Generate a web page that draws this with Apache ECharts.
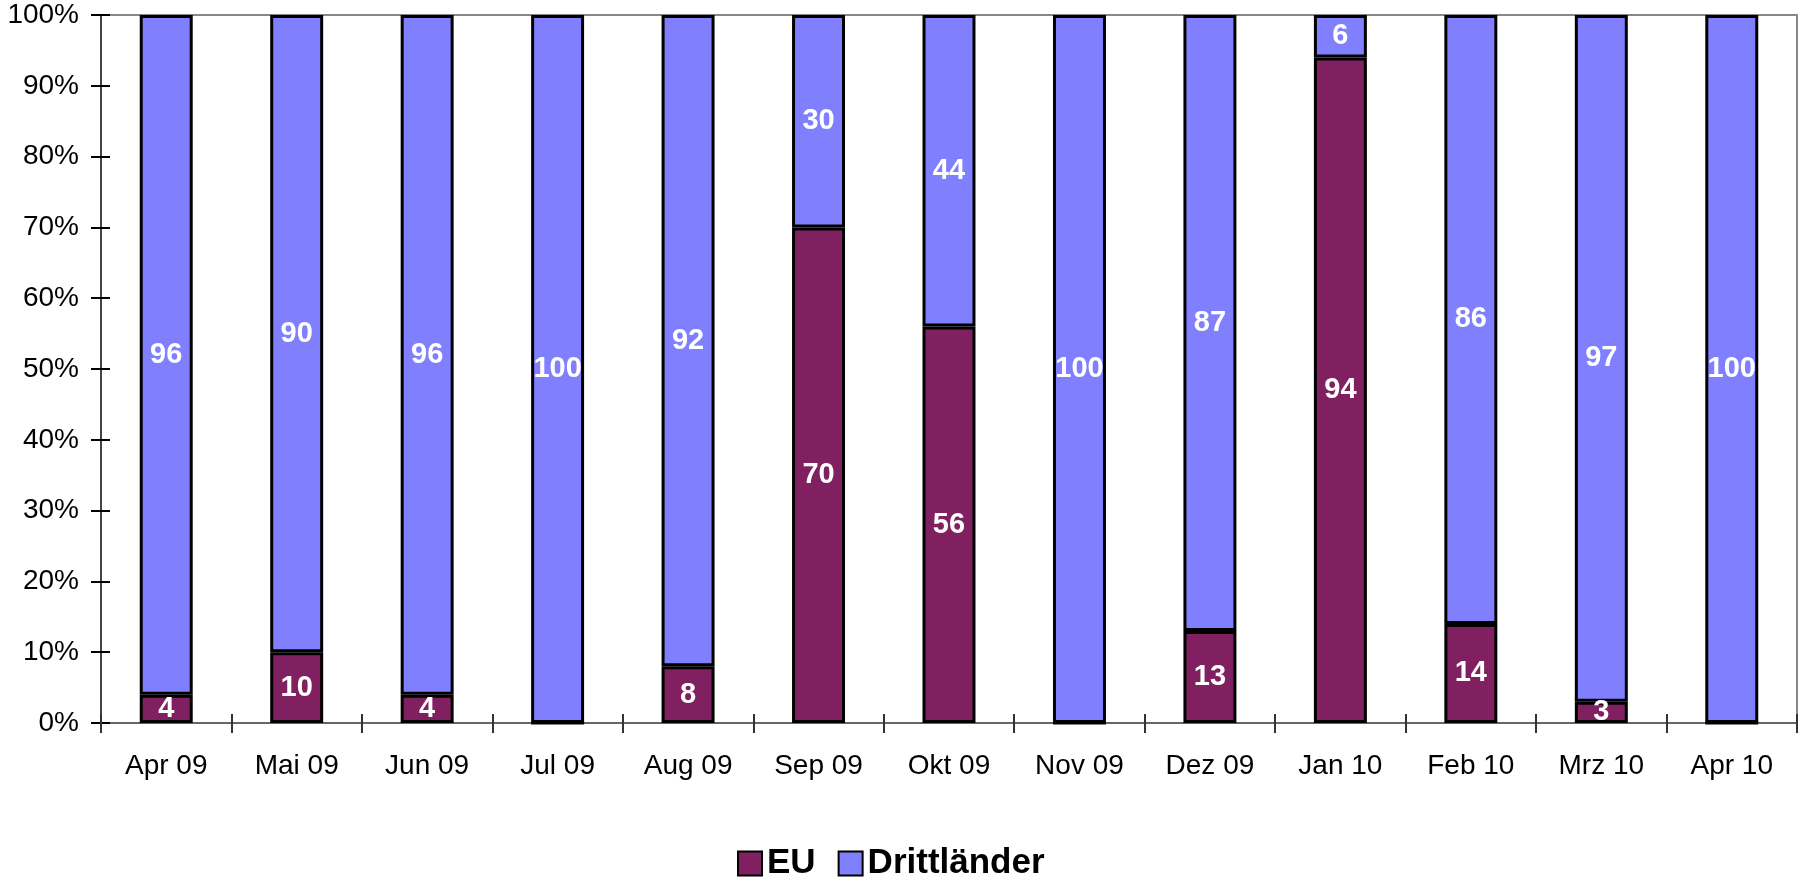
<!DOCTYPE html>
<html>
<head>
    <meta charset="utf-8">
    <title>EU / Drittländer</title>
    <script src="https://cdn.jsdelivr.net/npm/echarts@6/dist/echarts.min.js"></script>
    <style>
        html, body { margin: 0; padding: 0; background: #fff; }
    </style>
</head>
<body>
    <div id="chart" style="width: 1798px;height:882px;"></div>
    <script type="text/javascript">
        var months = ['Apr 09', 'Mai 09', 'Jun 09', 'Jul 09', 'Aug 09', 'Sep 09', 'Okt 09',
                      'Nov 09', 'Dez 09', 'Jan 10', 'Feb 10', 'Mrz 10', 'Apr 10'];
        var euValues = [4, 10, 4, 0, 8, 70, 56, 0, 13, 94, 14, 3, 0];
        var drittValues = [96, 90, 96, 100, 92, 30, 44, 100, 87, 6, 86, 97, 100];

        var font = '"Liberation Sans", Arial, Helvetica, sans-serif';
        var chart = echarts.init(document.getElementById('chart'));

        // Beschriftung in den Balken, Nullwerte ausblenden
        var barLabel = {
            show: true,
            position: 'inside',
            color: '#fff',
            fontFamily: font,
            fontWeight: 'bold',
            fontSize: 29,
            formatter: function (p) { return p.value === 0 ? '' : p.value; }
        };

        chart.setOption({
            animation: false,
            textStyle: { fontFamily: font },
            grid: { left: 101, right: 1, top: 15, bottom: 159, containLabel: false,
                    show: true, borderColor: '#888', borderWidth: 2 },
            legend: {
                top: 841,
                left: 732,
                itemWidth: 24,
                itemHeight: 24,
                itemGap: 22,
                icon: 'rect',
                textStyle: { fontFamily: font, fontSize: 35, fontWeight: 'bold', color: '#000' },
                data: ['EU', 'Drittländer']
            },
            xAxis: [{
                type: 'category',
                data: months,
                axisLine: { lineStyle: { color: '#666', width: 2 } },
                axisTick: { show: true, length: 10, lineStyle: { color: '#333', width: 2 } },
                axisLabel: { color: '#000', fontSize: 28, fontFamily: font, margin: 29 }
            }, {
                // zweite Achse nur fuer die nach innen zeigenden Teilstriche
                type: 'category',
                data: months,
                position: 'bottom',
                axisLine: { show: false },
                axisTick: { show: true, inside: true, length: 9, lineStyle: { color: '#333', width: 2 } },
                axisLabel: { show: false }
            }],
            yAxis: [{
                type: 'value',
                min: 0,
                max: 100,
                interval: 10,
                splitLine: { show: false },
                axisLine: { show: true, lineStyle: { color: '#444', width: 2 } },
                axisTick: { show: true, length: 10, lineStyle: { color: '#000', width: 2 } },
                axisLabel: { color: '#000', fontSize: 28, fontFamily: font, margin: 22,
                             formatter: '{value}%' }
            }, {
                type: 'value',
                min: 0,
                max: 100,
                interval: 10,
                position: 'left',
                splitLine: { show: false },
                axisLine: { show: false },
                axisTick: { show: true, inside: true, length: 9, lineStyle: { color: '#000', width: 2 } },
                axisLabel: { show: false }
            }],
            series: [{
                name: 'EU',
                type: 'bar',
                stack: 'total',
                barWidth: '40.6%',
                data: euValues,
                itemStyle: { color: '#802060', borderColor: '#000', borderWidth: 3 },
                label: barLabel
            }, {
                name: 'Drittländer',
                type: 'bar',
                stack: 'total',
                barWidth: '40.6%',
                data: drittValues,
                itemStyle: { color: '#8080FF', borderColor: '#000', borderWidth: 3 },
                label: barLabel
            }]
        });
    </script>
</body>
</html>
